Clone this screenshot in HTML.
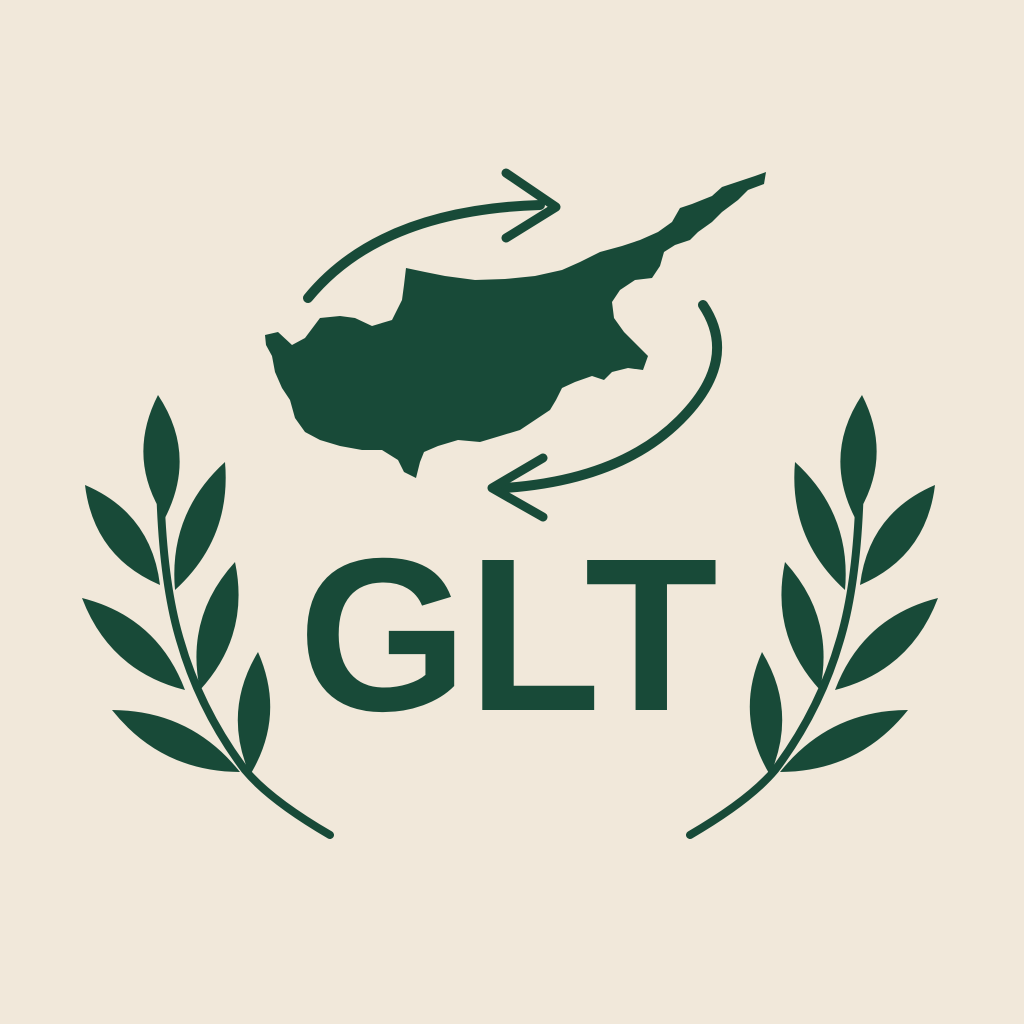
<!DOCTYPE html>
<html><head><meta charset="utf-8"><style>
html,body{margin:0;padding:0;background:#f1e8da;}
svg{display:block}
</style></head><body>
<svg id="logo" width="1024" height="1024" viewBox="0 0 1024 1024" xmlns="http://www.w3.org/2000/svg">
<rect width="1024" height="1024" fill="#f1e8da"/>
<g fill="#184a38" stroke="none">
<path d="M265,335 L278,332 L292,345 L305,338 L320,318 L340,316 L355,318 L372,326 L392,320 L402,300 L404,285 L406,268 L425,272 L445,276 L475,280 L505,279 L535,276 L562,270 L580,262 L600,252 L622,246 L640,240 L658,232 L672,222 L680,208 L692,204 L712,196 L722,187 L740,181 L755,176 L766,172 L764,184 L748,190 L738,200 L722,212 L712,222 L698,232 L690,240 L675,245 L664,252 L660,266 L652,278 L635,280 L620,290 L612,302 L614,318 L624,332 L636,344 L648,356 L643,370 L628,368 L612,372 L604,380 L592,376 L575,382 L562,388 L556,400 L550,410 L535,420 L520,430 L500,436 L480,442 L458,440 L438,446 L424,452 L420,462 L416,478 L404,472 L398,460 L382,450 L362,450 L340,446 L320,440 L305,432 L295,418 L290,400 L282,388 L275,372 L272,356 L266,345 Z"/>
</g>
<g fill="none" stroke="#184a38" stroke-linecap="round" stroke-linejoin="round">
<path d="M308,298 Q380,210 540,205" stroke-width="10"/>
<path d="M506,173 L556,207 L506,238" stroke-width="9"/>
<path d="M703,305 Q740,360 680,420 Q620,480 505,488" stroke-width="10"/>
<path d="M543,458 L492,488 L543,517" stroke-width="9"/>
</g>
<text x="508" y="710" text-anchor="middle" font-family="Liberation Sans, sans-serif" font-weight="bold" font-size="218" fill="#184a38">GLT</text>
<g id="left-branch"></g>
<g id="right-branch" transform="translate(1020,0) scale(-1,1)"></g>
</svg>
<script>
const NS="http://www.w3.org/2000/svg";
const leaves=[[158,395,165,518,36],[225,462,175,590,34],[85,485,160,585,36],[235,562,200,690,34],[82,598,185,690,36],[258,652,250,775,32],[112,710,240,772,34]];
function build(g){
  const stem=document.createElementNS(NS,'path');
  stem.setAttribute('d','M330,835 Q270,800 245,770 Q200,710 180,640 Q162,580 160,480');
  stem.setAttribute('fill','none');stem.setAttribute('stroke','#184a38');stem.setAttribute('stroke-width','8');stem.setAttribute('stroke-linecap','round');
  
  
  g.appendChild(stem);
  leaves.forEach(l=>{
    const [x1,y1,x2,y2,w]=l;
    const mx=(x1+x2)/2,my=(y1+y2)/2,dx=x2-x1,dy=y2-y1,len=Math.hypot(dx,dy);
    const nx=-dy/len*w,ny=dx/len*w;
    const p=document.createElementNS(NS,'path');
    p.setAttribute('d',`M${x1},${y1} Q${mx+nx},${my+ny} ${x2},${y2} Q${mx-nx},${my-ny} ${x1},${y1} Z`);
    p.setAttribute('fill','#184a38');
    
    
    g.appendChild(p);
  });
}
build(document.getElementById('left-branch'));
build(document.getElementById('right-branch'));
</script>
</body></html>
